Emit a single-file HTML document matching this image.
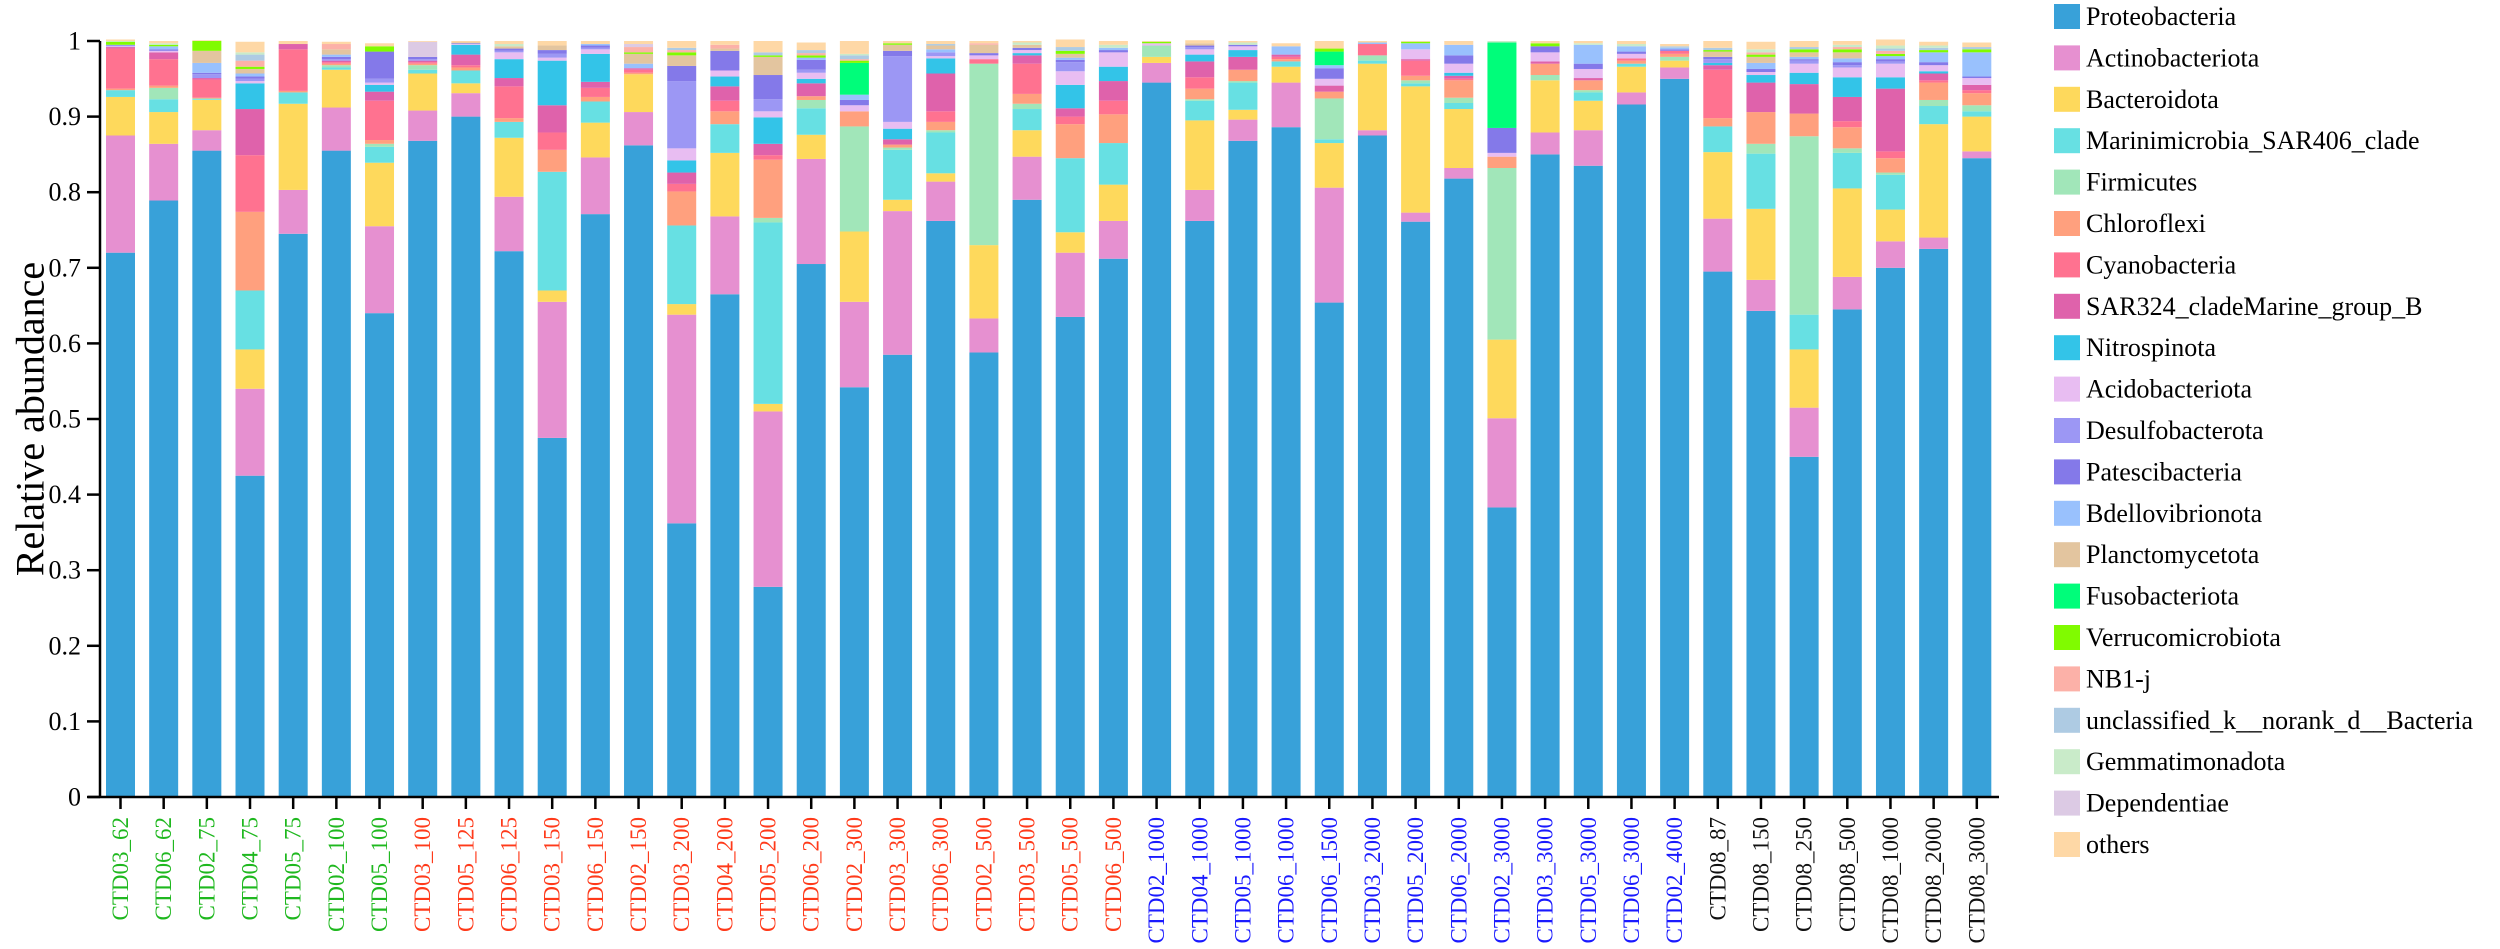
<!DOCTYPE html>
<html><head><meta charset="utf-8"><title>Relative abundance stacked bar chart</title>
<style>
html,body{margin:0;padding:0;background:#fff;}
svg{display:block;}
svg text{font-family:"Liberation Serif","Times New Roman",serif;}
</style></head>
<body>
<svg id="chart" width="2500" height="949" viewBox="0 0 2500 949" xmlns="http://www.w3.org/2000/svg" font-family="Liberation Serif, serif">
<g id="plot"></g>
<g id="axes"></g>
<g id="legend"></g>
</svg>
<script>
const categories = ["CTD03_62","CTD06_62","CTD02_75","CTD04_75","CTD05_75","CTD02_100","CTD05_100","CTD03_100","CTD05_125","CTD06_125","CTD03_150","CTD06_150","CTD02_150","CTD03_200","CTD04_200","CTD05_200","CTD06_200","CTD02_300","CTD03_300","CTD06_300","CTD02_500","CTD03_500","CTD05_500","CTD06_500","CTD02_1000","CTD04_1000","CTD05_1000","CTD06_1000","CTD06_1500","CTD03_2000","CTD05_2000","CTD06_2000","CTD02_3000","CTD03_3000","CTD05_3000","CTD06_3000","CTD02_4000","CTD08_87","CTD08_150","CTD08_250","CTD08_500","CTD08_1000","CTD08_2000","CTD08_3000"];
const categoryGroups = ["g","g","g","g","g","g","g","r","r","r","r","r","r","r","r","r","r","r","r","r","r","r","r","r","b","b","b","b","b","b","b","b","b","b","b","b","b","k","k","k","k","k","k","k"];
const seriesNames = ["Proteobacteria","Actinobacteriota","Bacteroidota","Marinimicrobia_SAR406_clade","Firmicutes","Chloroflexi","Cyanobacteria","SAR324_cladeMarine_group_B","Nitrospinota","Acidobacteriota","Desulfobacterota","Patescibacteria","Bdellovibrionota","Planctomycetota","Fusobacteriota","Verrucomicrobiota","NB1-j","unclassified_k__norank_d__Bacteria","Gemmatimonadota","Dependentiae","others"];
const yTicks = [0,0.1,0.2,0.3,0.4,0.5,0.6,0.7,0.8,0.9,1];
const yTickLabels = ["0","0.1","0.2","0.3","0.4","0.5","0.6","0.7","0.8","0.9","1"];
// per-sample values, order follows seriesNames
const s01=[.72,.155,.051,.009,0,.002,.053,.002,0,.001,.002,0,0,0,0,.004,0,0,.001,0,.002];
const s02=[.789,.075,.042,.017,.015,.003,.035,.009,0,.002,0,.002,.004,0,0,.002,0,0,.002,0,.003];
const s03=[.855,.027,.040,.001,.001,.001,.024,.002,0,0,.005,.002,.013,.016,0,.013,0,0,0,0,.001];
const s04=[.425,.115,.052,.078,0,.104,.075,.061,.034,.003,.003,.003,.004,.006,0,.003,.008,.008,.003,0,.014];
const s05=[.745,.058,.114,.015,0,.002,.055,.007,0,0,0,0,0,0,0,0,0,0,0,0,.004];
const s06=[.855,.057,.05,.003,.003,.002,.002,.002,0,0,.002,.003,.003,.007,0,0,.007,0,0,0,.003];
const s07=[.64,.115,.084,.021,.004,.005,.052,.012,.009,.003,.005,.036,0,0,0,.007,0,0,0,0,.004];
const s08=[.868,.04,.049,.005,.006,.002,.002,.002,0,0,.002,.003,0,0,0,0,0,0,0,.02,.001];
const s09=[.90,.031,.013,.017,0,.004,.003,.014,.013,.001,0,.001,0,.001,0,0,0,0,0,0,.002];
const s10=[.722,.072,.078,.021,0,.005,.042,.011,.025,.009,.002,.003,0,.003,0,0,0,0,.003,0,.004];
const s11=[.475,.18,.015,.157,0,.029,.023,.036,.059,.004,.005,.005,0,.006,0,0,0,0,0,0,.006];
const s12=[.771,.075,.046,.028,0,.006,.012,.008,.037,.006,.002,.003,.002,0,0,0,0,0,0,0,.004];
const s13=[.862,.044,.05,0,0,.002,.004,.002,0,0,0,0,.006,.013,0,.002,.007,0,0,.004,.004];
const s14=[.362,.276,.014,.104,0,.045,.01,.015,.016,.016,.089,.02,0,.014,0,.004,.003,.003,0,0,.009];
const s15=[.665,.103,.084,.038,0,.017,.014,.019,.013,.008,0,.026,0,.003,0,0,.005,0,0,0,.005];
const s16=[.278,.232,.01,.24,.006,.077,.006,.015,.035,.008,.016,.032,0,.024,0,.002,0,.004,0,0,.015];
const s17=[.705,.139,.032,.035,.011,.005,0,.017,.006,.008,.004,.013,.003,0,0,.003,.003,.004,0,0,.01];
const s18=[.542,.113,.093,0,.139,.02,0,0,0,.008,0,.007,.007,0,.042,.003,.002,.005,.002,0,.017];
const s19=[.585,.19,.015,.066,.003,.004,0,.007,.014,.009,.087,.007,0,.008,0,.002,0,0,0,0,.003];
const s20=[.762,.052,.011,.054,.003,.011,.014,.05,.02,.003,.005,0,.004,.005,0,0,0,.002,0,0,.004];
const s21=[.588,.045,.097,0,.24,0,.006,0,0,.005,0,.003,0,.011,0,0,.002,0,0,0,.003];
const s22=[.79,.057,.035,.028,.007,.013,.04,.011,.003,.004,0,.003,0,.004,0,0,0,0,.003,0,.002];
const s23=[.635,.085,.027,.098,0,.045,.01,.011,.031,.018,.012,.003,.003,.005,0,.004,0,.005,0,0,.01];
const s24=[.712,.05,.048,.055,0,.038,.018,.026,.019,.019,0,.003,.003,0,0,0,0,0,.004,0,.005];
const s25=[.945,.026,.008,0,.015,0,0,0,0,.003,0,0,0,0,0,.002,0,0,0,0,.001];
const s26=[.762,.041,.092,.026,.002,.014,.015,.021,.009,.007,.003,.002,0,.003,0,0,0,0,0,0,.004];
const s27=[.868,.028,.013,.036,.002,.015,0,.017,.009,.005,0,.002,0,0,0,0,0,0,.003,0,.002];
const s28=[.886,.059,.021,.007,0,.003,.003,.003,0,0,0,0,.011,0,0,0,0,0,0,0,.004];
const s29=[.654,.152,.059,.005,.054,.009,0,.008,0,.009,0,.014,.004,0,.018,.004,0,0,0,0,.010];
const s30=[.875,.007,.088,.004,.007,0,.015,0,0,0,0,0,.002,0,0,0,0,0,0,0,.002];
const s31=[.761,.012,.167,.004,.004,.006,.02,.002,0,.013,0,0,.008,0,0,.002,0,0,0,0,.001];
const s32=[.818,.014,.078,.008,.007,.023,.002,.004,.004,.012,0,.011,.014,0,0,0,0,0,0,0,.005];
const s33=[.383,.118,.104,0,.227,.015,0,0,0,.005,0,.033,0,0,.113,0,0,0,.002,0,0];
const s34=[.85,.029,.069,0,.007,.015,0,.003,0,.012,0,.008,0,0,0,.004,0,0,0,0,.003];
const s35=[.835,.047,.039,.011,.003,.013,0,.003,0,.012,0,.007,.025,0,0,0,0,0,.002,0,.003];
const s36=[.916,.016,.034,.004,0,.004,.003,0,0,.006,0,.003,.007,0,0,0,0,0,.003,0,.004];
const s37=[.95,.015,.009,0,.005,.004,.004,0,0,0,0,.002,.002,0,0,0,0,.002,0,0,.003];
const s38=[.695,.07,.088,.034,0,.011,.064,.006,.003,0,.005,.003,0,.007,0,.002,0,.003,0,0,.009];
const s39=[.643,.041,.094,.073,.013,.042,0,.039,.01,.004,0,.004,.008,.008,0,.003,.003,0,.004,0,.01];
const s40=[.45,.065,.077,.046,.236,.03,0,.039,.015,.012,.004,.002,.003,.006,0,.004,0,.003,0,0,.008];
const s41=[.645,.043,.117,.047,.006,.028,.008,.032,.026,.013,.003,.004,.005,.008,0,.004,.003,0,.003,0,.005];
const s42=[.70,.035,.042,.046,.003,.019,.009,.083,.015,.018,.003,.003,.004,0,0,.003,.004,.003,.004,0,.008];
const s43=[.725,.015,.15,.024,.008,.023,.003,.009,.003,.008,0,.004,.013,0,0,.003,0,.003,.003,0,.005];
const s44=[.845,.009,.046,.007,.008,.016,.004,.007,0,.009,0,.002,.032,0,0,.004,0,.003,0,0,.006];
const samples=[s01,s02,s03,s04,s05,s06,s07,s08,s09,s10,s11,s12,s13,s14,s15,s16,s17,s18,s19,s20,s21,s22,s23,s24,s25,s26,s27,s28,s29,s30,s31,s32,s33,s34,s35,s36,s37,s38,s39,s40,s41,s42,s43,s44];

const colors=["#38a1d9","#e690d0","#fed95c","#67e0e3","#a1e6b9","#ffa07e","#ff7290","#df62ab","#33c4e8","#e8bdf2","#9c97f4","#8479e9","#99c1fd","#e3c59f","#00fd7a","#80fb00","#fcb1a8","#aecbe3","#c9ebc9","#dccae4","#fed8a6"];
const groupColors={g:"#1fb81f",r:"#ff3a1a",b:"#1a1aff",k:"#111"};
const FONT='"Liberation Serif","Times New Roman",serif';
const NS="http://www.w3.org/2000/svg";
const X0=120.5, DX=43.17, BW=29, Y0=797, YH=756, AXL=100, AXR=1999;
function xPos(i){return X0+i*DX;}
function yPos(v){return Y0-v*YH;}
function mk(tag,attrs,parent){const e=document.createElementNS(NS,tag);for(const k in attrs)e.setAttribute(k,attrs[k]);if(tag==='text')e.style.fontFamily=FONT;parent.appendChild(e);return e;}
const plot=document.getElementById('plot'), axes=document.getElementById('axes'), legend=document.getElementById('legend');

samples.forEach((vals,i)=>{
  const g=mk('g',{},plot);
  
  
  let cum=0;
  vals.forEach((v,j)=>{
    if(v<=0)return;
    const r=mk('rect',{x:xPos(i)-BW/2,y:yPos(cum+v),width:BW,height:Math.max(0,yPos(cum)-yPos(cum+v)),fill:colors[j]},g);
    
    
    cum+=v;
  });
});

const yl=mk('path',{d:`M${AXL} ${yPos(1)}V${Y0}`,stroke:'#000','stroke-width':2.5,fill:'none'},axes);


const xl=mk('path',{d:`M88 ${Y0}H${AXR}`,stroke:'#000','stroke-width':2.5,fill:'none'},axes);


yTicks.forEach((t,k)=>{
  const tk=mk('path',{d:`M87 ${yPos(t)}H${AXL}`,stroke:'#000','stroke-width':2.5},axes);
  
  
  const tx=mk('text',{x:81,y:yPos(t),'text-anchor':'end','dominant-baseline':'central','font-size':26,fill:'#000'},axes);
  tx.textContent=yTickLabels[k];
  
  
});
categories.forEach((c,i)=>{
  const tk=mk('path',{d:`M${xPos(i)} ${Y0}V809`,stroke:'#000','stroke-width':2.5},axes);
  
  
  const tx=mk('text',{x:0,y:0,transform:`translate(${xPos(i)},817) rotate(-90)`,'text-anchor':'end','dominant-baseline':'central','font-size':23,fill:groupColors[categoryGroups[i]]},axes);
  tx.textContent=c;
  
  
});
const yt=mk('text',{x:0,y:0,transform:'translate(30,419) rotate(-90)','text-anchor':'middle','dominant-baseline':'central','font-size':40,fill:'#000'},axes);
yt.textContent='Relative abundance';



seriesNames.forEach((n,j)=>{
  const cy=16.5+j*41.4;
  const g=mk('g',{},legend);
  
  
  const sw=mk('rect',{x:2054,y:cy-12.5,width:26,height:25,fill:colors[j]},g);
  
  
  const t=mk('text',{x:2086,y:cy,'dominant-baseline':'central','font-size':26,fill:'#000'},g);
  t.textContent=n;
  
  
});
</script>
</body></html>
